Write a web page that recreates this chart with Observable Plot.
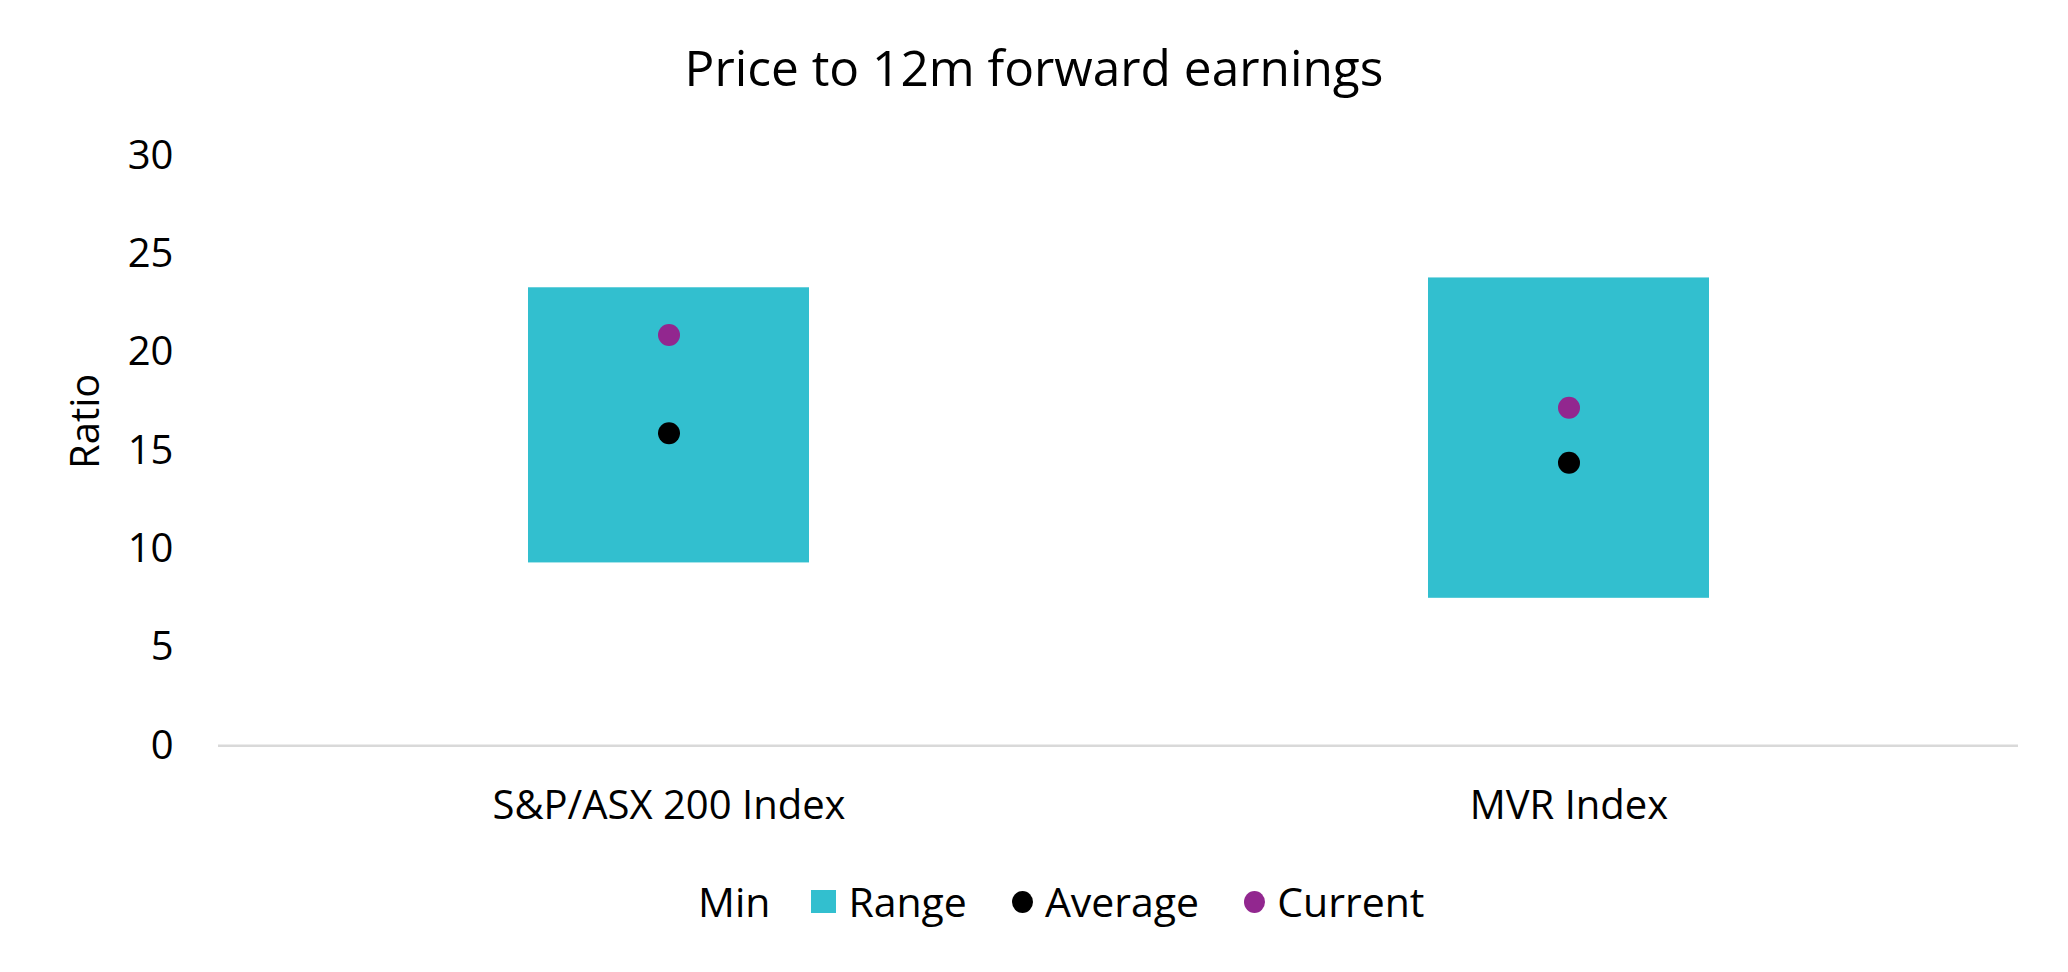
<!DOCTYPE html>
<html>
<head>
<meta charset="utf-8">
<script src="https://cdn.jsdelivr.net/npm/d3@7"></script>
<script src="https://cdn.jsdelivr.net/npm/@observablehq/plot@0.6"></script>
<style>
  html, body { margin: 0; padding: 0; background: #fff; }
  body { width: 2068px; height: 972px; position: relative; overflow: hidden; font-family: "Open Sans", sans-serif; color: #000; }
  #title { position: absolute; left: 0; width: 2068px; top: 43px; text-align: center; font-size: 49.6px; line-height: 49.6px; }
  #chart { position: absolute; left: 0; top: 120px; }
  #legend { position: absolute; left: 698px; top: 881px; display: flex; align-items: center; font-size: 41px; line-height: 41px; white-space: nowrap; }
  .item { display: flex; align-items: center; margin-right: 45px; }
  .sw { width: 25px; height: 23px; margin-right: 12px; }
  .dot { width: 21px; height: 22px; border-radius: 50%; margin-right: 12px; }
</style>
</head>
<body>
<div id="title"></div>
<div id="chart"></div>
<div id="legend"></div>
<script>
const titleText = "Price to 12m forward earnings";
const yLabel = "Ratio";
const categories = ["S&P/ASX 200 Index", "MVR Index"];
const minValues = [9.3, 7.5];
const maxValues = [23.3, 23.8];
const averageValues = [15.9, 14.4];
const currentValues = [20.9, 17.2];
const yTicks = [0, 5, 10, 15, 20, 25, 30];
const legendLabels = ["Min", "Range", "Average", "Current"];
const colors = {Range: "#32BFCF", Average: "#000000", Current: "#92278F"};

const rows = categories.map((c, i) => ({
  cat: c, min: minValues[i], max: maxValues[i], avg: averageValues[i], cur: currentValues[i]
}));

document.getElementById("title").textContent = titleText;

const chart = Plot.plot({
  width: 2068,
  height: 730,
  marginLeft: 218,
  marginRight: 50,
  marginTop: 35.6,
  marginBottom: 104.8,
  style: {fontFamily: "Open Sans", fontSize: "40px", color: "#000", background: "#fff"},
  x: {type: "band", domain: categories, paddingInner: 0.688, paddingOuter: 0.344, align: 0.5},
  y: {domain: [0, 30]},
  marks: [
    Plot.barY(rows, {x: "cat", y1: "min", y2: "max", fill: colors.Range}),
    Plot.ruleY([0], {stroke: "#d9d9d9", strokeWidth: 2.5}),
    Plot.dot(rows, {x: "cat", y: "cur", r: 11, fill: colors.Current, stroke: null}),
    Plot.dot(rows, {x: "cat", y: "avg", r: 11, fill: colors.Average, stroke: null}),
    Plot.axisX({tickSize: 0, tickPadding: 45, label: null, fontSize: 40}),
    Plot.axisY({ticks: yTicks, tickSize: 0, tickPadding: 45, label: null, fontSize: 40}),
    Plot.text([yLabel], {text: d => d, frameAnchor: "left", rotate: -90, dx: -132, dy: 18, fontSize: 40, fill: "#000"})
  ]
});
document.getElementById("chart").appendChild(chart);

const legend = document.getElementById("legend");
legendLabels.forEach((name, i) => {
  const item = document.createElement("div");
  item.className = "item";
  if (i === 0) item.style.marginRight = "41px";
  if (i === legendLabels.length - 1) item.style.marginRight = "0";
  if (name === "Range") {
    const sw = document.createElement("span");
    sw.className = "sw";
    sw.style.background = colors.Range;
    item.appendChild(sw);
  } else if (name === "Average" || name === "Current") {
    const sw = document.createElement("span");
    sw.className = "dot";
    sw.style.background = colors[name];
    item.appendChild(sw);
  }
  const t = document.createElement("span");
  t.textContent = name;
  item.appendChild(t);
  legend.appendChild(item);
});
</script>
</body>
</html>
